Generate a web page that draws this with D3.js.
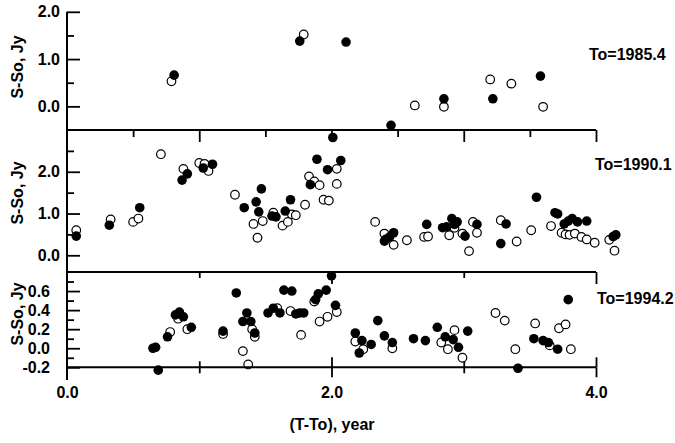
<!DOCTYPE html>
<html>
<head>
<meta charset="utf-8">
<script src="https://cdn.jsdelivr.net/npm/d3@7"></script>
<style>
  body { margin: 0; background: #fff; }
  svg text { font-family: "Liberation Sans", Arial, sans-serif; font-weight: bold; font-size: 16px; fill: #000; }
</style>
</head>
<body>
<svg id="chart" width="675" height="443"></svg>
<script>
// (T-To) in years, S-So in Jy; filled and open circles for each epoch
var p1Filled = [[0.81,0.66],[1.76,1.38],[2.11,1.36],[2.45,-0.40],[2.85,0.16],[3.22,0.16],[3.58,0.64]];
var p1Open = [[0.79,0.53],[1.79,1.52],[2.63,0.02],[2.85,-0.01],[3.20,0.57],[3.36,0.48],[3.60,-0.01]];

var p2Filled = [[0.07,0.46],[0.32,0.72],[0.55,1.14],[0.87,1.80],[0.91,1.95],[1.03,2.09],[1.10,2.18],
  [1.34,1.14],[1.43,1.28],[1.47,1.59],[1.45,1.04],[1.55,0.94],[1.58,0.92],[1.65,1.06],[1.69,1.33],
  [1.84,1.69],[1.89,2.30],[1.97,2.05],[2.01,2.82],[2.07,2.27],
  [2.40,0.34],[2.41,0.38],[2.44,0.44],[2.47,0.54],
  [2.72,0.74],[2.84,0.66],[2.87,0.68],[2.91,0.88],[2.93,0.74],[2.95,0.80],[3.01,0.46],[3.10,0.74],
  [3.32,0.75],[3.28,0.28],[3.55,1.39],[3.69,1.02],[3.71,0.99],[3.76,0.75],[3.79,0.82],[3.82,0.88],
  [3.86,0.80],[3.93,0.82],[4.13,0.45],[4.15,0.49]];
var p2Open = [[0.07,0.60],[0.33,0.86],[0.50,0.80],[0.54,0.88],[0.71,2.42],[0.88,2.07],[1.00,2.21],
  [1.04,2.19],[1.07,2.02],[1.27,1.45],
  [1.41,0.75],[1.44,0.42],[1.48,0.82],[1.56,1.02],[1.63,0.71],[1.67,0.80],[1.70,0.98],[1.73,0.96],
  [1.80,1.21],[1.83,1.89],[1.87,1.77],[1.91,1.68],[1.94,1.33],[1.98,1.31],[2.04,1.71],[2.04,2.07],
  [2.33,0.80],[2.40,0.52],[2.47,0.25],[2.57,0.36],
  [2.70,0.44],[2.73,0.45],[2.89,0.48],[2.93,0.66],[2.99,0.52],[3.04,0.10],[3.07,0.80],[3.10,0.54],
  [3.28,0.84],[3.40,0.33],[3.51,0.60],[3.66,0.70],[3.74,0.54],[3.77,0.50],[3.80,0.49],[3.84,0.52],
  [3.89,0.44],[3.93,0.38],[3.99,0.30],[4.10,0.37],[4.14,0.11]];

var p3Filled = [[0.65,0.00],[0.67,0.01],[0.69,-0.23],[0.76,0.12],[0.82,0.35],[0.85,0.38],[0.88,0.33],
  [0.94,0.22],[1.18,0.18],[1.28,0.58],[1.36,0.37],[1.33,0.28],[1.39,0.28],[1.42,0.16],
  [1.52,0.37],[1.56,0.42],[1.61,0.37],[1.64,0.61],[1.70,0.60],[1.73,0.36],[1.76,0.37],[1.79,0.37],
  [1.88,0.51],[1.90,0.57],[1.96,0.61],[2.00,0.76],[2.03,0.45],
  [2.18,0.16],[2.23,0.08],[2.21,-0.05],[2.30,0.04],[2.35,0.29],[2.40,0.13],[2.46,0.06],[2.62,0.10],
  [2.71,0.08],[2.80,0.22],[2.86,0.12],[2.92,0.09],[2.96,0.01],[3.03,0.18],[3.41,-0.21],[3.53,0.10],
  [3.60,0.08],[3.64,0.06],[3.71,-0.01],[3.79,0.51]];
var p3Open = [[0.78,0.17],[0.84,0.31],[0.91,0.20],[1.18,0.15],[1.33,-0.03],[1.37,-0.17],[1.40,0.20],
  [1.42,0.12],[1.59,0.42],[1.69,0.39],[1.77,0.14],[1.87,0.49],[1.91,0.28],[1.97,0.33],[2.04,0.38],
  [2.18,0.07],[2.24,-0.01],[2.46,0.00],[2.83,0.06],[2.88,-0.01],[2.93,0.19],[2.99,-0.10],[3.24,0.37],
  [3.31,0.29],[3.39,-0.01],[3.54,0.26],[3.65,0.03],[3.72,0.21],[3.77,0.25],[3.81,-0.01]];

var epochs = ["To=1985.4", "To=1990.1", "To=1994.2"];
var yLabel = "S-So, Jy";
var xLabel = "(T-To), year";
var xTickLabels = [0, 2, 4];

var svg = d3.select("#chart");
var x = d3.scaleLinear().domain([0, 4]).range([67, 596]);
var fmt = function (d) { return d.toFixed(1); };

var panels = [
  { y: d3.scaleLinear().domain([-0.5, 2.0]).range([130, 11.8]), filled: p1Filled, open: p1Open,
    major: [0, 1, 2], minor: [0.5, 1.5], pad: 7, labelY: 67, epochX: 589, epochY: 60 },
  { y: d3.scaleLinear().domain([-0.4, 3.0]).range([272, 130]), filled: p2Filled, open: p2Open,
    major: [0, 1, 2], minor: [0.5, 1.5, 2.5], pad: 7, labelY: 193, epochX: 595, epochY: 170 },
  { y: d3.scaleLinear().domain([-0.2, 0.8]).range([367.3, 272]), filled: p3Filled, open: p3Open,
    major: [-0.2, 0, 0.2, 0.4, 0.6], minor: [-0.1, 0.1, 0.3, 0.5, 0.7], pad: 17, labelY: 314, epochX: 597, epochY: 304 }
];

function styleAxis(g, w) {
  g.select(".domain").remove();
  g.selectAll("line").attr("stroke", "#000").attr("stroke-width", w);
  g.selectAll("text").attr("font-size", null).attr("font-family", null);
}

panels.forEach(function (p, i) {
  // points: open first, then filled
  svg.append("g").selectAll("circle").data(p.open).join("circle")
    .attr("cx", function (d) { return x(d[0]); })
    .attr("cy", function (d) { return p.y(d[1]); })
    .attr("r", 4.3)
    .attr("fill", "#fff")
    .attr("stroke", "#000")
    .attr("stroke-width", 1.2);
  svg.append("g").selectAll("circle").data(p.filled).join("circle")
    .attr("cx", function (d) { return x(d[0]); })
    .attr("cy", function (d) { return p.y(d[1]); })
    .attr("r", 4.8)
    .attr("fill", "#000");

  // y ticks (inward)
  svg.append("g").attr("transform", "translate(67,0)")
    .call(d3.axisLeft(p.y).tickValues(p.major).tickSize(-13).tickPadding(p.pad).tickFormat(fmt))
    .call(styleAxis, 1.8);
  svg.append("g").attr("transform", "translate(67,0)")
    .call(d3.axisLeft(p.y).tickValues(p.minor).tickSize(-7).tickFormat(""))
    .call(styleAxis, 1.8);

  svg.append("text")
    .attr("transform", "translate(23," + p.labelY + ") rotate(-90)")
    .attr("text-anchor", "middle")
    .text(yLabel);

  svg.append("text")
    .attr("x", p.epochX).attr("y", p.epochY)
    .text(epochs[i]);
});

// shared horizontal lines
var y1 = panels[0].y, y2 = panels[1].y, y3 = panels[2].y;
[y1(-0.5), y2(-0.4), y3(-0.2)].forEach(function (yy) {
  svg.append("line").attr("x1", 67).attr("x2", 596).attr("y1", yy).attr("y2", yy)
    .attr("stroke", "#000").attr("stroke-width", 2);
});
// left axis line
svg.append("line").attr("x1", 67).attr("x2", 67).attr("y1", y1(2.0)).attr("y2", 380)
  .attr("stroke", "#000").attr("stroke-width", 2);

// ticks below panel 1 line (into panel 2)
svg.append("g").attr("transform", "translate(0," + y1(-0.5) + ")")
  .call(d3.axisBottom(x).tickValues([1, 2, 3, 4]).tickSize(12).tickFormat(""))
  .call(styleAxis, 1.8);
svg.append("g").attr("transform", "translate(0," + y1(-0.5) + ")")
  .call(d3.axisBottom(x).tickValues([0.5, 1.5, 2.5, 3.5]).tickSize(7).tickFormat(""))
  .call(styleAxis, 1.8);

// ticks below panel 2 line (into panel 3)
svg.append("g").attr("transform", "translate(0," + y2(-0.4) + ")")
  .call(d3.axisBottom(x).tickValues([2, 4]).tickSize(12).tickFormat(""))
  .call(styleAxis, 1.8);
svg.append("g").attr("transform", "translate(0," + y2(-0.4) + ")")
  .call(d3.axisBottom(x).tickValues([1, 3]).tickSize(6).tickFormat(""))
  .call(styleAxis, 1.8);

// bottom axis: ticks crossing the line
var yb = y3(-0.2);
[[ [2, 4], 10 ], [ [1, 3], 6 ]].forEach(function (t) {
  svg.append("g").attr("transform", "translate(0," + yb + ")")
    .call(d3.axisBottom(x).tickValues(t[0]).tickSize(t[1]).tickFormat(""))
    .call(styleAxis, 1.8);
  svg.append("g").attr("transform", "translate(0," + yb + ")")
    .call(d3.axisTop(x).tickValues(t[0]).tickSize(t[1]).tickFormat(""))
    .call(styleAxis, 1.8);
});
svg.append("g").attr("transform", "translate(0," + yb + ")")
  .call(d3.axisBottom(x).tickValues(xTickLabels).tickSize(0).tickPadding(19.5).tickFormat(fmt))
  .call(styleAxis, 1.8);

svg.append("text")
  .attr("x", 332).attr("y", 430)
  .attr("text-anchor", "middle")
  .text(xLabel);
</script>
</body>
</html>
